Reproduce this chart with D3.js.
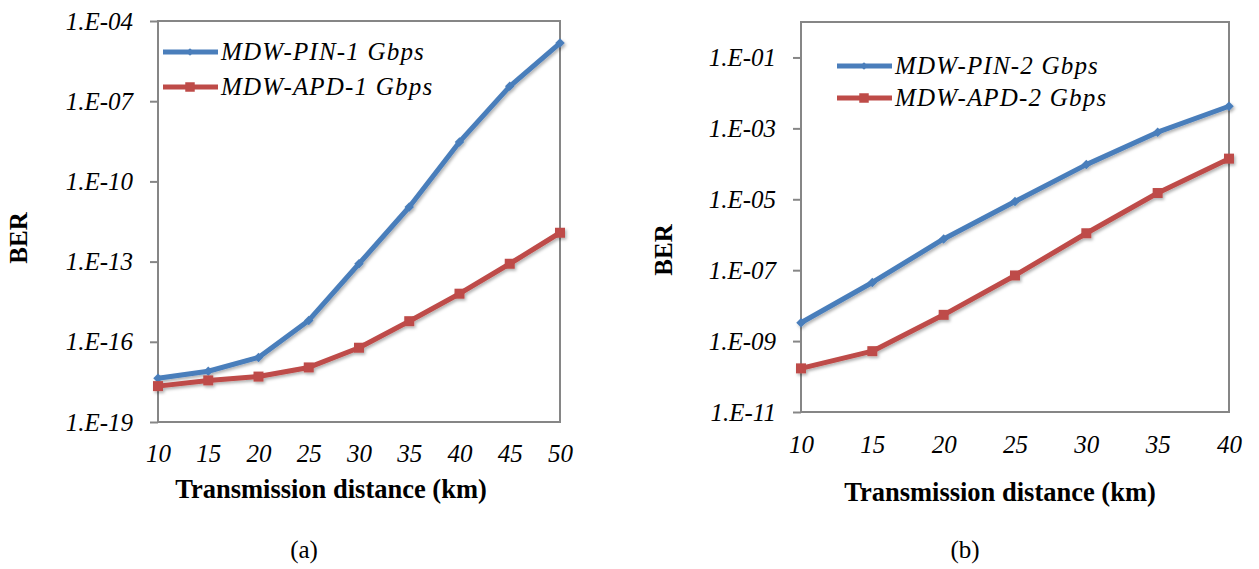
<!DOCTYPE html>
<html lang="en">
	<head>
		<meta charset="utf-8">
		<title>BER vs distance</title>
		<script type="text/javascript" src="https://cdn.jsdelivr.net/npm/d3@7/dist/d3.min.js"></script>
		<style type="text/css">
			body { margin: 0; background: #fff; }
			svg { display: block; }
			text { font-family: "Liberation Serif", "Times New Roman", serif; fill: #000; }
		</style>
	</head>
	<body>
		<script type="text/javascript">

			// (a) 1 Gbps
			var dist1 = [10, 15, 20, 25, 30, 35, 40, 45, 50]
			var pin1 = [4.3e-18, 7.9e-18, 2.6e-17, 6.3e-16, 8.3e-14, 1.1e-11, 3.0e-9, 3.6e-7, 1.5e-5]
			var apd1 = [2.2e-18, 3.6e-18, 5.0e-18, 1.1e-17, 6.0e-17, 5.9e-16, 6.3e-15, 8.3e-14, 1.2e-12]
			var ticks1 = [1e-19, 1e-16, 1e-13, 1e-10, 1e-7, 1e-4]

			// (b) 2 Gbps
			var dist2 = [10, 15, 20, 25, 30, 35, 40]
			var pin2 = [3.3e-9, 4.5e-8, 7.6e-7, 8.7e-6, 9.5e-5, 7.8e-4, 4.2e-3]
			var apd2 = [1.7e-10, 5.2e-10, 5.5e-9, 7.1e-8, 1.1e-6, 1.5e-5, 1.4e-4]
			var ticks2 = [1e-11, 1e-9, 1e-7, 1e-5, 1e-3, 1e-1]

			var blue = "#4a7ebb", red = "#be4b48", grey = "#868686"

			var w = 1259, h = 569
			var svg = d3.select("body").append("svg").attr("width", w).attr("height", h)

			var defs = svg.append("defs")
			defs.append("filter").attr("id", "shadow")
				.attr("x", "-20%").attr("y", "-20%").attr("width", "140%").attr("height", "140%")
				.append("feDropShadow")
				.attr("dx", 1.5).attr("dy", 2)
				.attr("stdDeviation", 1.5)
				.attr("flood-color", "#000")
				.attr("flood-opacity", 0.3)

			var fmt = function(d) {
				var e = Math.round(Math.log10(d))
				var s = Math.abs(e) < 10 ? "0" + Math.abs(e) : "" + Math.abs(e)
				return "1.E" + (e < 0 ? "-" : "+") + s
			}

			function drawChart(cfg) {
				var g = svg.append("g")

				var x = d3.scaleLinear().domain(cfg.xDomain).range([cfg.x0, cfg.x1])
				var y = d3.scaleLog().domain(cfg.yDomain).range([cfg.y1, cfg.y0])

				// plot border
				g.append("rect")
					.attr("x", cfg.x0).attr("y", cfg.y0)
					.attr("width", cfg.x1 - cfg.x0).attr("height", cfg.y1 - cfg.y0)
					.attr("fill", "none").attr("stroke", grey).attr("stroke-width", 2)

				var yAxis = g.append("g")
					.attr("transform", "translate(" + cfg.x0 + ",0)")
					.call(d3.axisLeft(y).tickValues(cfg.yTicks).tickFormat(fmt).tickSize(8).tickSizeOuter(0).tickPadding(17))
				yAxis.select(".domain").remove()
				yAxis.selectAll("line").attr("stroke", grey).attr("stroke-width", 2)
				yAxis.selectAll("text")
					.attr("font-size", "25px").attr("font-style", "italic")
					.attr("fill", "#000")

				var xAxis = g.append("g")
					.attr("transform", "translate(0," + cfg.y1 + ")")
					.call(d3.axisBottom(x).tickValues(cfg.dist).tickFormat(d3.format("d")).tickSize(0))
				xAxis.select(".domain").remove()
				xAxis.selectAll("text")
					.attr("dy", null).attr("y", cfg.xLabelOff)
					.attr("font-size", "25px").attr("font-style", "italic")
					.attr("fill", "#000")

				var line = d3.line()
					.x(function(d) { return x(d[0]); })
					.y(function(d) { return y(d[1]); })

				cfg.series.forEach(function(s) {
					var pts = d3.zip(cfg.dist, s.values)
					var sg = g.append("g").attr("filter", "url(#shadow)")
					sg.append("path")
						.datum(pts)
						.attr("d", line)
						.attr("fill", "none")
						.attr("stroke", s.color)
						.attr("stroke-width", 5)
						.attr("stroke-linejoin", "round")
					sg.selectAll(".mk")
						.data(pts)
						.enter()
						.append("path")
						.attr("d", d3.symbol().type(d3.symbolSquare).size(s.marker == "diamond" ? 45 : 100))
						.attr("transform", function(d) {
							return "translate(" + x(d[0]) + "," + y(d[1]) + ")" + (s.marker == "diamond" ? " rotate(45)" : "")
						})
						.attr("fill", s.color)
				})

				// legend
				cfg.series.forEach(function(s, i) {
					var ly = cfg.legY + i * cfg.legGap
					var lg = g.append("g")
					lg.append("line")
						.attr("x1", cfg.legX).attr("x2", cfg.legX + 55)
						.attr("y1", ly).attr("y2", ly)
						.attr("stroke", s.color).attr("stroke-width", 5)
					lg.append("path")
						.attr("d", d3.symbol().type(d3.symbolSquare).size(s.marker == "diamond" ? 30 : 90))
						.attr("transform", "translate(" + (cfg.legX + 27) + "," + ly + ")" + (s.marker == "diamond" ? " rotate(45)" : ""))
						.attr("fill", s.color)
					lg.append("text")
						.attr("x", cfg.legX + 58).attr("y", ly).attr("dy", "0.33em")
						.attr("font-size", "25px").attr("font-style", "italic")
						.attr("letter-spacing", "1.2px")
						.text(s.name)
				})

				// axis titles
				g.append("text")
					.attr("transform", "translate(" + (cfg.berX + 8) + "," + cfg.berY + ") rotate(-90)")
					.attr("text-anchor", "middle")
					.attr("font-size", "25px").attr("font-weight", "bold")
					.text("BER")

				g.append("text")
					.attr("x", cfg.titleX).attr("y", cfg.titleY)
					.attr("text-anchor", "middle")
					.attr("font-size", "26.5px").attr("font-weight", "bold")
					.text("Transmission distance (km)")

				g.append("text")
					.attr("x", cfg.capX).attr("y", 558)
					.attr("text-anchor", "middle")
					.attr("font-size", "25px")
					.text(cfg.caption)
			}

			drawChart({
				dist: dist1, xDomain: [10, 50], yDomain: [1e-19, 1e-4], yTicks: ticks1,
				x0: 158, x1: 560, y0: 21, y1: 422, xLabelOff: 40,
				series: [
					{ name: "MDW-PIN-1 Gbps", values: pin1, color: blue, marker: "diamond" },
					{ name: "MDW-APD-1 Gbps", values: apd1, color: red, marker: "square" }
				],
				legX: 163, legY: 52, legGap: 35,
				berX: 19, berY: 238, titleX: 331, titleY: 498, capX: 304, caption: "(a)"
			})

			drawChart({
				dist: dist2, xDomain: [10, 40], yDomain: [1e-11, 1], yTicks: ticks2,
				x0: 801, x1: 1229, y0: 22, y1: 412, xLabelOff: 41,
				series: [
					{ name: "MDW-PIN-2 Gbps", values: pin2, color: blue, marker: "diamond" },
					{ name: "MDW-APD-2 Gbps", values: apd2, color: red, marker: "square" }
				],
				legX: 837, legY: 66, legGap: 32,
				berX: 664, berY: 250, titleX: 1000, titleY: 501, capX: 965, caption: "(b)"
			})

		</script>
	</body>
</html>
